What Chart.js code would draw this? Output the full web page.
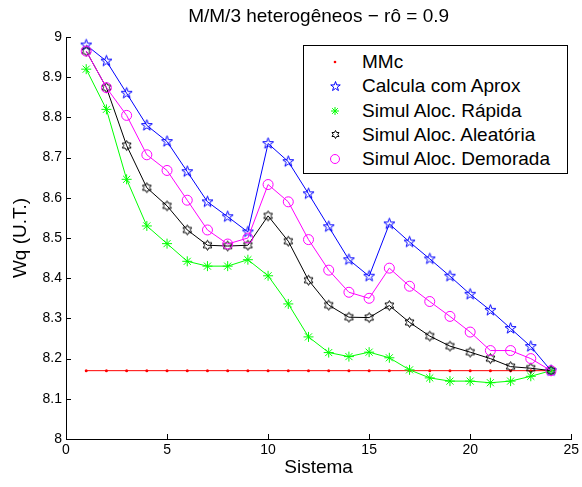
<!DOCTYPE html>
<html>
<head>
<meta charset="utf-8">
<script src="https://cdn.jsdelivr.net/npm/chart.js@4/dist/chart.umd.min.js"></script>
<style>
  body { margin: 0; background: #fff; }
  #wrap { position: relative; width: 582px; height: 487px; }
  #legenda {
    position: absolute; left: 303px; top: 45px; width: 263px; height: 127px;
    border: 1px solid #000; background: #fff;
    font-family: "Liberation Sans", Arial, sans-serif; font-size: 19px; color: #000;
  }
  .item { position: absolute; left: 0; height: 24px; line-height: 24px; white-space: nowrap; }
  .item img { position: absolute; }
  .item span { position: absolute; left: 58px; }
</style>
</head>
<body>
<div id="wrap">
  <canvas id="grafico" width="582" height="487"></canvas>
  <div id="legenda"></div>
</div>
<script>
// dados
const sistemas = [1, 2, 3, 4, 5, 6, 7, 8, 9, 10, 11, 12, 13, 14, 15, 16, 17, 18, 19, 20, 21, 22, 23, 24];
const mmc = [8.17, 8.17, 8.17, 8.17, 8.17, 8.17, 8.17, 8.17, 8.17, 8.17, 8.17, 8.17,
             8.17, 8.17, 8.17, 8.17, 8.17, 8.17, 8.17, 8.17, 8.17, 8.17, 8.17, 8.17];
const aprox = [8.98, 8.94, 8.86, 8.78, 8.74, 8.665, 8.59, 8.553, 8.515, 8.735, 8.69, 8.61,
               8.528, 8.446, 8.405, 8.535, 8.49, 8.448, 8.405, 8.36, 8.32, 8.275, 8.23, 8.17];
const rapida = [8.92, 8.82, 8.646, 8.53, 8.486, 8.442, 8.43, 8.43, 8.446, 8.406, 8.336, 8.254,
                8.215, 8.205, 8.216, 8.202, 8.172, 8.152, 8.144, 8.144, 8.14, 8.144, 8.156, 8.17];
const aleatoria = [8.965, 8.874, 8.73, 8.625, 8.58, 8.52, 8.482, 8.48, 8.482, 8.555, 8.492, 8.395,
                   8.333, 8.303, 8.302, 8.332, 8.29, 8.256, 8.231, 8.216, 8.2, 8.18, 8.176, 8.17];
const demorada = [8.965, 8.874, 8.805, 8.707, 8.668, 8.594, 8.52, 8.485, 8.5, 8.633, 8.59, 8.496,
                  8.42, 8.365, 8.35, 8.425, 8.38, 8.342, 8.305, 8.266, 8.22, 8.22, 8.2, 8.17];

const FONTE = '"Liberation Sans", Arial, sans-serif';
const TITULO = 'M/M/3 heterogêneos − rô = 0.9';

// marcadores desenhados à mão (pentagrama e hexagrama do MATLAB)
function estrela(pontas, R, r, cor) {
  const s = Math.ceil(R * 2 + 3);
  const c = document.createElement('canvas');
  c.width = s; c.height = s;
  const g = c.getContext('2d');
  g.strokeStyle = cor;
  g.lineWidth = 1;
  g.beginPath();
  for (let i = 0; i < pontas * 2; i++) {
    const rad = i % 2 === 0 ? R : r;
    const a = -Math.PI / 2 + i * Math.PI / pontas;
    const px = s / 2 + rad * Math.cos(a), py = s / 2 + rad * Math.sin(a);
    if (i === 0) g.moveTo(px, py); else g.lineTo(px, py);
  }
  g.closePath();
  g.stroke();
  return c;
}
const pentagrama = estrela(5, 5.8, 2.3, '#0000ff');
const hexagrama = estrela(6, 5, 2.9, '#000000');

function pares(valores) {
  return sistemas.map((x, i) => ({ x: x, y: valores[i] }));
}

// ticks para dentro e título centrado nos eixos, como no MATLAB
const estiloMatlab = {
  id: 'estiloMatlab',
  afterDraw(chart) {
    const { ctx, chartArea, scales } = chart;
    ctx.save();
    ctx.strokeStyle = '#000';
    ctx.lineWidth = 1;
    ctx.beginPath();
    scales.x.ticks.forEach(t => {
      const px = Math.round(scales.x.getPixelForValue(t.value)) + 0.5;
      ctx.moveTo(px, chartArea.bottom);
      ctx.lineTo(px, chartArea.bottom - 5);
    });
    scales.y.ticks.forEach(t => {
      const py = Math.round(scales.y.getPixelForValue(t.value)) + 0.5;
      ctx.moveTo(chartArea.left, py);
      ctx.lineTo(chartArea.left + 5, py);
    });
    ctx.stroke();
    ctx.fillStyle = '#000';
    ctx.font = '19px ' + FONTE;
    ctx.textAlign = 'center';
    ctx.textBaseline = 'middle';
    ctx.fillText(TITULO, (chartArea.left + chartArea.right) / 2, 17);
    ctx.restore();
  }
};

const ctx = document.getElementById('grafico').getContext('2d');
new Chart(ctx, {
  type: 'line',
  plugins: [estiloMatlab],
  data: {
    datasets: [
      {
        label: 'MMc', data: pares(mmc), order: 5,
        borderColor: '#ff0000', borderWidth: 1,
        pointStyle: 'circle', pointRadius: 1.5,
        pointBackgroundColor: '#ff0000', pointBorderWidth: 0
      },
      {
        label: 'Calcula com Aprox', data: pares(aprox), order: 4,
        borderColor: '#0000ff', borderWidth: 1,
        pointStyle: pentagrama
      },
      {
        label: 'Simul Aloc. Rápida', data: pares(rapida), order: 3,
        borderColor: '#00ff00', borderWidth: 1,
        pointStyle: 'star', pointRadius: 5, pointBorderColor: '#00ff00', pointBorderWidth: 1
      },
      {
        label: 'Simul Aloc. Aleatória', data: pares(aleatoria), order: 2,
        borderColor: '#000000', borderWidth: 1,
        pointStyle: hexagrama
      },
      {
        label: 'Simul Aloc. Demorada', data: pares(demorada), order: 1,
        borderColor: '#ff00ff', borderWidth: 1,
        pointStyle: 'circle', pointRadius: 5,
        pointBackgroundColor: 'rgba(0,0,0,0)', pointBorderColor: '#ff00ff', pointBorderWidth: 1
      }
    ]
  },
  options: {
    responsive: false,
    animation: false,
    layout: { padding: { left: 0, right: 8, top: 37, bottom: 0 } },
    plugins: {
      legend: { display: false },
      tooltip: { enabled: false },
      title: { display: false }
    },
    scales: {
      x: {
        type: 'linear', min: 0, max: 25,
        ticks: { stepSize: 5, color: '#000', padding: 3, font: { family: FONTE, size: 14 } },
        grid: { drawOnChartArea: false, drawTicks: false },
        border: { color: '#000', width: 1 },
        title: {
          display: true, text: 'Sistema', color: '#000',
          font: { family: FONTE, size: 19 }, padding: { top: 0, bottom: 8 }
        },
        afterFit(scale) { scale.height = 48; }
      },
      y: {
        min: 8, max: 9,
        ticks: {
          stepSize: 0.1, color: '#000', padding: 4, font: { family: FONTE, size: 14 },
          callback: v => String(Math.round(v * 10) / 10)
        },
        grid: { drawOnChartArea: false, drawTicks: false },
        border: { color: '#000', width: 1 },
        title: {
          display: true, text: 'Wq (U.T.)', color: '#000',
          font: { family: FONTE, size: 19 }, padding: { top: 9, bottom: 0 }
        },
        afterFit(scale) { scale.width = 66; }
      }
    }
  }
});

// legenda em HTML dentro do gráfico
const legenda = document.getElementById('legenda');
function marcadorSimples(tipo) {
  const c = document.createElement('canvas');
  c.width = 14; c.height = 14;
  const g = c.getContext('2d');
  if (tipo === 'ponto') {
    g.fillStyle = '#ff0000';
    g.beginPath(); g.arc(7, 7, 1.3, 0, Math.PI * 2); g.fill();
  } else if (tipo === 'asterisco') {
    g.strokeStyle = '#00ff00'; g.lineWidth = 1;
    g.beginPath();
    for (let k = 0; k < 4; k++) {
      const a = k * Math.PI / 4;
      g.moveTo(7 + 4 * Math.cos(a), 7 + 4 * Math.sin(a));
      g.lineTo(7 - 4 * Math.cos(a), 7 - 4 * Math.sin(a));
    }
    g.stroke();
  } else {
    g.strokeStyle = '#ff00ff'; g.lineWidth = 1;
    g.beginPath(); g.arc(7, 7, 4.5, 0, Math.PI * 2); g.stroke();
  }
  return c;
}
const rotulos = ['MMc', 'Calcula com Aprox', 'Simul Aloc. Rápida', 'Simul Aloc. Aleatória', 'Simul Aloc. Demorada'];
const marcadores = [
  marcadorSimples('ponto'),
  estrela(5, 5, 2, '#0000ff'),
  marcadorSimples('asterisco'),
  estrela(6, 4, 2.3, '#000000'),
  marcadorSimples('circulo')
];
rotulos.forEach((txt, i) => {
  const div = document.createElement('div');
  div.className = 'item';
  div.style.top = (4 + i * 24.3) + 'px';
  const c = marcadores[i];
  const img = document.createElement('img');
  img.src = c.toDataURL();
  img.style.left = (31 - c.width / 2) + 'px';
  img.style.top = (12 - c.height / 2) + 'px';
  const span = document.createElement('span');
  span.textContent = txt;
  div.appendChild(img);
  div.appendChild(span);
  legenda.appendChild(div);
});
</script>
</body>
</html>
